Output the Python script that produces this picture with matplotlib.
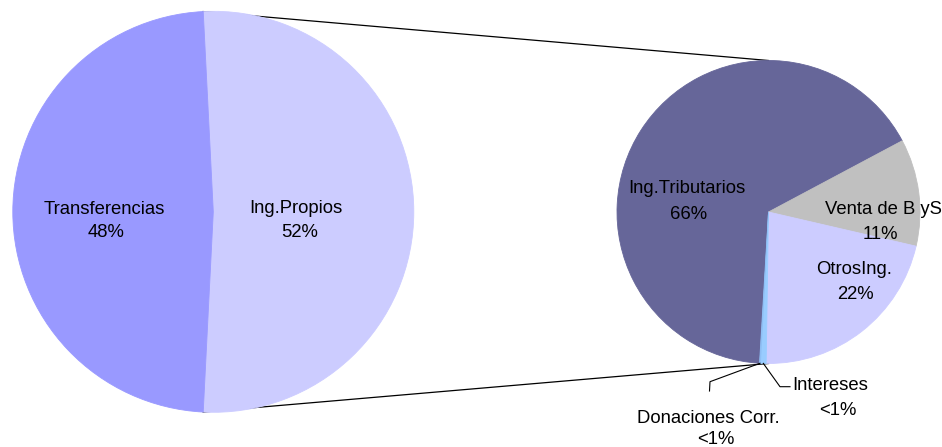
import matplotlib
matplotlib.use("Agg")
import matplotlib.pyplot as plt
import numpy as np

# ---------------- data ----------------
main_labels = ["Ing.Propios", "Transferencias"]
main_values = [51.6, 48.4]
main_pct_text = ["52%", "48%"]

sub_labels = ["Ing.Tributarios", "Venta de B yS", "OtrosIng.", "Intereses", "Donaciones Corr."]
sub_values = [66.2, 11.4, 21.6, 0.6, 0.1]
sub_pct_text = ["66%", "11%", "22%", "<1%", "<1%"]

# ---------------- style / layout ----------------
main_colors = ["#CCCCFF", "#9999FF"]
sub_colors = ["#666699", "#C0C0C0", "#CCCCFF", "#99CCFF", "#8FBFF5"]

W, H = 942, 447
FS = 13.3
FONT = ["Liberation Sans", "DejaVu Sans"]


def Y(y):
    return H - y


big_c = (213.3, Y(211.8))
big_r = 200.5
small_c = (768.5, Y(212.0))
small_r = 151.5
sub_start = 266.6

# label positions (visual centre of each line, image coords)
main_label_pos = {"Ing.Propios": ((296, 206.7), (299.5, 230.0)),
                  "Transferencias": ((104.5, 207.0), (105.7, 230.0))}
sub_label_pos = {"Ing.Tributarios": ((686.7, 186.7), (689.0, 212.7)),
                 "Venta de B yS": ((883.0, 207.7), (880.5, 232.7)),
                 "OtrosIng.": ((853.8, 267.3), (855.8, 292.3)),
                 "Intereses": ((830.5, 383.3), (837.5, 408.3)),
                 "Donaciones Corr.": ((708.5, 416.0), (716.0, 437.6))}
leader_elbows = {"Intereses": [(780, 386.7), (790, 386.7)],
                 "Donaciones Corr.": [(710, 381.7), (709.5, 391.0)]}

fig = plt.figure(figsize=(W / 100, H / 100), dpi=100)
ax = fig.add_axes([0, 0, 1, 1])

start_big = -main_values[0] / sum(main_values) * 180.0
wb, _ = ax.pie(main_values, colors=main_colors, center=big_c, radius=big_r,
               startangle=start_big, counterclock=True,
               wedgeprops=dict(linewidth=0.6))
ws, _ = ax.pie(sub_values, colors=sub_colors, center=small_c, radius=small_r,
               startangle=sub_start, counterclock=False,
               wedgeprops=dict(linewidth=0.6))
for w in list(wb) + list(ws):
    w.set_edgecolor(w.get_facecolor())

# series lines joining the "Ing.Propios" slice to the secondary pie
top_a = np.deg2rad(wb[0].theta2)
bot_a = np.deg2rad(wb[0].theta1)
ax.plot([big_c[0] + big_r * np.cos(top_a), small_c[0]],
        [big_c[1] + big_r * np.sin(top_a), small_c[1] + small_r],
        color="black", lw=0.9, zorder=0)
ax.plot([big_c[0] + big_r * np.cos(bot_a), small_c[0]],
        [big_c[1] + big_r * np.sin(bot_a), small_c[1] - small_r],
        color="black", lw=0.9, zorder=0)

# leader lines for tiny slices
for i, name in enumerate(sub_labels):
    if name in leader_elbows:
        w = ws[i]
        mid = np.deg2rad((w.theta1 + w.theta2) / 2)
        xs = [small_c[0] + small_r * np.cos(mid)]
        ys = [small_c[1] + small_r * np.sin(mid)]
        for (px, py) in leader_elbows[name]:
            xs.append(px)
            ys.append(Y(py))
        ax.plot(xs, ys, color="black", lw=0.8, zorder=3)

cap_half = 0.716 * FS * 100 / 72 / 2


def put(text, pos):
    ax.text(pos[0], Y(pos[1] + cap_half), text, ha="center", va="baseline",
            fontsize=FS, family=FONT, color="black", zorder=4)


for name, pct in zip(main_labels, main_pct_text):
    p1, p2 = main_label_pos[name]
    put(name, p1)
    put(pct, p2)
for name, pct in zip(sub_labels, sub_pct_text):
    p1, p2 = sub_label_pos[name]
    put(name, p1)
    put(pct, p2)

ax.set_xlim(0, W)
ax.set_ylim(0, H)
ax.set_aspect("equal")
ax.set_axis_off()
fig.savefig("out.png", dpi=100, facecolor="white")
